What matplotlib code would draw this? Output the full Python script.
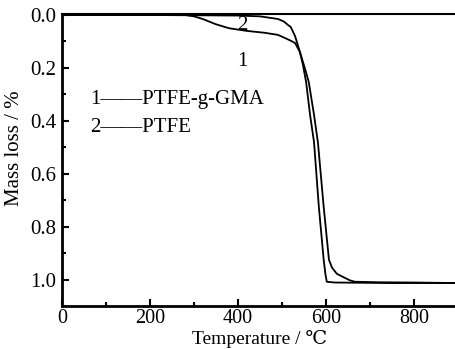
import matplotlib.pyplot as plt
from matplotlib.ticker import MultipleLocator
import numpy as np

plt.rcParams['font.family'] = ['Liberation Serif', 'DejaVu Serif']

# Крива 1 - PTFE-g-GMA
t1 = [0, 200, 280, 300, 320, 350, 380, 420, 460, 491, 507, 520, 530, 541,
      548, 555, 564, 573, 584, 595, 599, 602, 620, 750, 900]
m1 = [0.0, 0.0, 0.0, 0.005, 0.015, 0.035, 0.05, 0.06, 0.067, 0.075, 0.087,
      0.097, 0.106, 0.14, 0.19, 0.253, 0.377, 0.48, 0.725, 0.925, 0.98,
      1.008, 1.011, 1.013, 1.013]

# Крива 2 - PTFE
t2 = [0, 200, 400, 450, 491, 505, 514, 520, 530, 541, 552, 561, 573, 582,
      595, 607, 614, 625, 639, 655, 666, 720, 800, 900]
m2 = [0.0, 0.0, 0.002, 0.005, 0.015, 0.025, 0.038, 0.045, 0.08, 0.14, 0.2,
      0.253, 0.377, 0.483, 0.725, 0.925, 0.955, 0.978, 0.99, 1.003, 1.008,
      1.01, 1.011, 1.013]

fig = plt.figure(figsize=(4.56, 3.49), dpi=100)
ax = fig.add_axes([0.136, 0.123, 0.868, 0.837])

ax.plot(t1, m1, color='black', lw=1.3)
ax.plot(t2, m2, color='black', lw=1.3)

ax.set_xlim(0, 900)
ax.set_ylim(1.1, -0.004)

ax.xaxis.set_major_locator(MultipleLocator(200))
ax.xaxis.set_minor_locator(MultipleLocator(100))
ax.yaxis.set_major_locator(MultipleLocator(0.2))
ax.yaxis.set_minor_locator(MultipleLocator(0.1))
ax.yaxis.set_major_formatter(plt.FuncFormatter(lambda v, p: f'{abs(v):.1f}'))

ax.tick_params(which='both', direction='in', top=False, right=False,
               labelsize=15, width=1.5, pad=4)
ax.tick_params(axis='x', labelsize=14.5, pad=2)
ax.tick_params(which='major', length=5)
ax.tick_params(which='minor', length=3)

ax.spines['left'].set_linewidth(2)
ax.spines['bottom'].set_linewidth(2)
ax.spines['top'].set_linewidth(1.5)
ax.spines['right'].set_visible(False)

ax.set_xlabel('Temperature / ℃', fontsize=14, va='baseline')
ax.xaxis.set_label_coords(0.5, -0.131)
ax.set_ylabel('Mass loss / %', fontsize=15)
ax.yaxis.set_label_coords(-0.095, 0.54)

ax.text(411, 0.038, '2', fontsize=15, ha='center', va='center')
ax.text(411, 0.177, '1', fontsize=15, ha='center', va='center')
ax.text(63, 0.32, '1——PTFE-g-GMA', fontsize=15, va='center')
ax.text(63, 0.425, '2——PTFE', fontsize=15, va='center')

fig.savefig('out.png', dpi=100)
